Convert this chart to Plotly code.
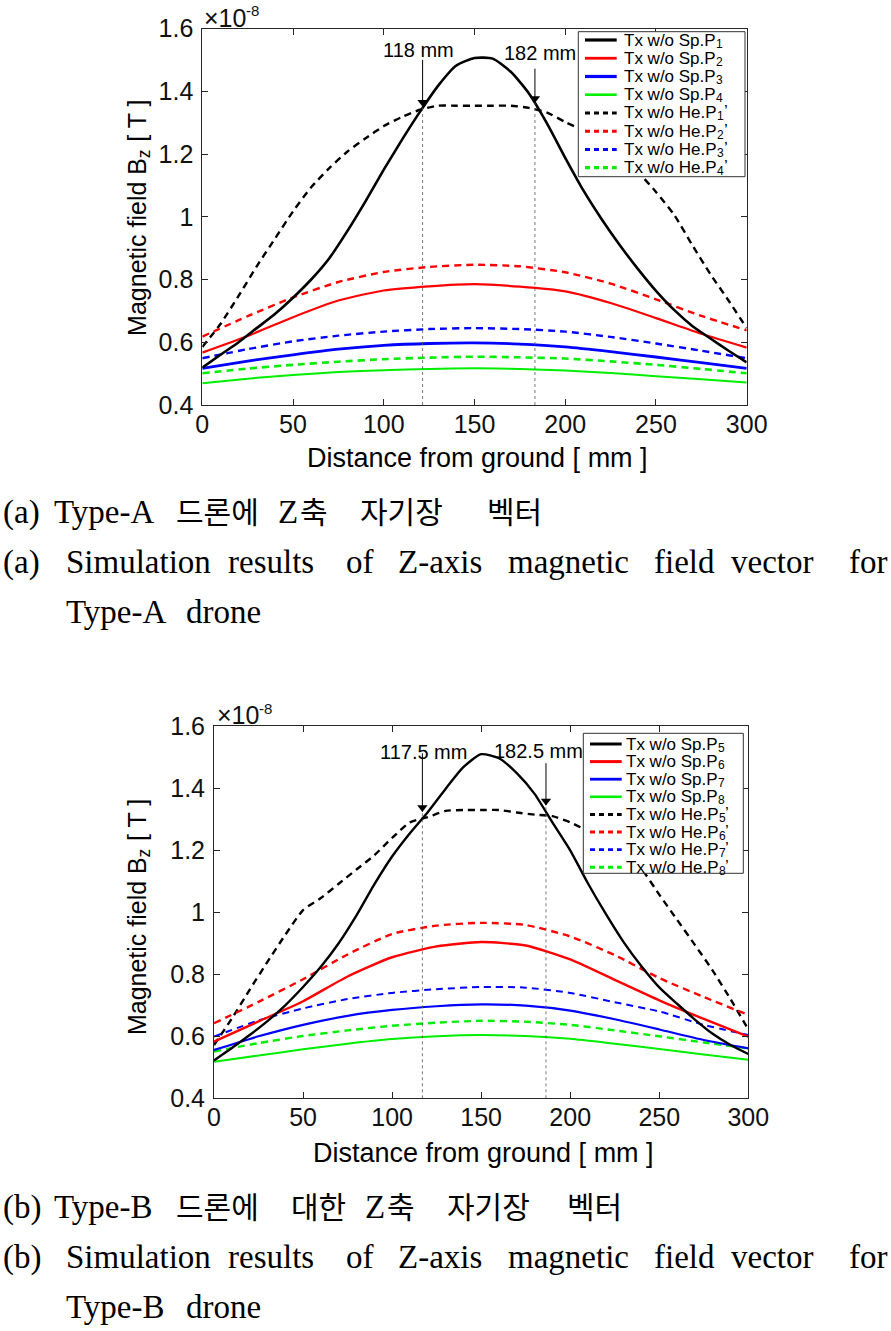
import plotly.graph_objects as go

# ---------------- data (values in 1e-8 T) ----------------
x_fine = [0, 10, 20, 30, 40, 50, 60, 70, 80, 90, 100, 110, 120, 130, 140, 150,
          160, 170, 180, 190, 200, 210, 220, 230, 240, 250, 260, 270, 280, 290, 300]
x_coarse = [0, 25, 50, 75, 100, 125, 150, 175, 200, 225, 250, 275, 300]

# Type-A drone
sp_p1 = [0.519, 0.560, 0.600, 0.645, 0.690, 0.742, 0.800, 0.868, 0.955, 1.050, 1.150,
         1.245, 1.335, 1.418, 1.482, 1.506, 1.504, 1.462, 1.393, 1.297, 1.188, 1.084,
         0.993, 0.910, 0.834, 0.764, 0.703, 0.652, 0.612, 0.573, 0.536]
he_p1 = [0.585, 0.658, 0.748, 0.842, 0.930, 1.017, 1.094, 1.155, 1.208, 1.250, 1.289,
         1.318, 1.341, 1.354, 1.354, 1.354, 1.354, 1.354, 1.347, 1.332, 1.302, 1.275,
         1.240, 1.195, 1.143, 1.079, 1.006, 0.910, 0.817, 0.733, 0.645]
sp_p2 = [0.567, 0.620, 0.680, 0.733, 0.765, 0.778, 0.785, 0.777, 0.762, 0.725, 0.677, 0.627, 0.583]
he_p2 = [0.618, 0.683, 0.743, 0.792, 0.824, 0.840, 0.847, 0.842, 0.823, 0.787, 0.737, 0.684, 0.638]
sp_p3 = [0.517, 0.540, 0.560, 0.578, 0.590, 0.596, 0.598, 0.594, 0.585, 0.570, 0.553, 0.535, 0.517]
he_p3 = [0.549, 0.578, 0.603, 0.621, 0.634, 0.642, 0.645, 0.642, 0.634, 0.617, 0.596, 0.573, 0.549]
sp_p4 = [0.469, 0.484, 0.496, 0.505, 0.511, 0.515, 0.517, 0.515, 0.510, 0.502, 0.492, 0.482, 0.472]
he_p4 = [0.501, 0.516, 0.528, 0.538, 0.546, 0.551, 0.554, 0.552, 0.548, 0.539, 0.528, 0.515, 0.501]

# Type-B drone
sp_p5 = [0.522, 0.562, 0.604, 0.649, 0.700, 0.759, 0.824, 0.900, 0.990, 1.090, 1.180,
         1.255, 1.323, 1.398, 1.468, 1.510, 1.497, 1.449, 1.382, 1.290, 1.200, 1.093,
         0.995, 0.904, 0.826, 0.758, 0.705, 0.654, 0.608, 0.572, 0.543]
he_p5 = [0.572, 0.657, 0.750, 0.840, 0.927, 1.007, 1.046, 1.092, 1.138, 1.184, 1.240,
         1.290, 1.307, 1.327, 1.330, 1.330, 1.330, 1.322, 1.315, 1.310, 1.290, 1.262,
         1.230, 1.190, 1.140, 1.057, 0.976, 0.895, 0.812, 0.720, 0.622]
sp_p6 = [0.583, 0.648, 0.713, 0.793, 0.855, 0.890, 0.904, 0.893, 0.848, 0.782, 0.716, 0.656, 0.599]
he_p6 = [0.642, 0.711, 0.784, 0.864, 0.930, 0.957, 0.966, 0.959, 0.922, 0.862, 0.788, 0.727, 0.669]
sp_p7 = [0.556, 0.600, 0.637, 0.666, 0.685, 0.697, 0.703, 0.699, 0.683, 0.655, 0.622, 0.588, 0.561]
he_p7 = [0.599, 0.651, 0.690, 0.720, 0.740, 0.752, 0.759, 0.757, 0.740, 0.710, 0.680, 0.637, 0.604]
sp_p8 = [0.518, 0.538, 0.558, 0.576, 0.591, 0.600, 0.604, 0.601, 0.592, 0.576, 0.559, 0.541, 0.524]
he_p8 = [0.551, 0.578, 0.601, 0.619, 0.634, 0.644, 0.650, 0.647, 0.637, 0.619, 0.600, 0.580, 0.561]

x_ticks = [0, 50, 100, 150, 200, 250, 300]
y_ticks = [0.4, 0.6, 0.8, 1.0, 1.2, 1.4, 1.6]
y_tick_text = ["0.4", "0.6", "0.8", "1", "1.2", "1.4", "1.6"]

# marker lines: position (mm), arrow top, arrow tip, label, label x, label y
marks_a = [(121.4, 1.500, 1.352, "118 mm", 119.4, 1.530),
           (183.3, 1.472, 1.364, "182 mm", 186.0, 1.522)]
marks_b = [(117.0, 1.513, 1.325, "117.5 mm", 117.5, 1.518),
           (186.4, 1.481, 1.346, "182.5 mm", 182.0, 1.521)]

# legend labels: base text, subscript index, prime
legend_a = [("Tx w/o Sp.P", "1", ""), ("Tx w/o Sp.P", "2", ""), ("Tx w/o Sp.P", "3", ""),
            ("Tx w/o Sp.P", "4", ""), ("Tx w/o He.P", "1", "’"), ("Tx w/o He.P", "2", "’"),
            ("Tx w/o He.P", "3", "’"), ("Tx w/o He.P", "4", "’")]
legend_b = [("Tx w/o Sp.P", "5", ""), ("Tx w/o Sp.P", "6", ""), ("Tx w/o Sp.P", "7", ""),
            ("Tx w/o Sp.P", "8", ""), ("Tx w/o He.P", "5", "’"), ("Tx w/o He.P", "6", "’"),
            ("Tx w/o He.P", "7", "’"), ("Tx w/o He.P", "8", "’")]

# ---------------- styling ----------------
W, H = 891, 1331
BLACK, RED, BLUE, GREEN = "#000000", "#ff0000", "#0000ff", "#00ee00"
colors = [BLACK, RED, BLUE, GREEN, BLACK, RED, BLUE, GREEN]
widths_a = [2.6, 2.2, 2.8, 2.0, 2.4, 2.4, 2.4, 2.6]
widths_b = [2.4, 2.4, 2.2, 2.0, 2.4, 2.4, 2.0, 2.4]
DASH = "7px,5px"
SANS = "Liberation Sans, Arial, DejaVu Sans, sans-serif"
SERIF = "Liberation Serif, Times New Roman, Noto Sans CJK KR, serif"
AXC = "#262626"

# Arial / Liberation Sans advance widths (em/1000) for measuring text pieces
AW = {"T": 611, "x": 500, " ": 278, "w": 722, "/": 278, "o": 556, "S": 667, "p": 556,
      ".": 278, "P": 667, "H": 722, "e": 556, "M": 833, "a": 556, "g": 556, "n": 556,
      "t": 278, "i": 222, "c": 500, "f": 278, "l": 222, "d": 556, "B": 667, "z": 500,
      "[": 278, "]": 278, "×": 584, "1": 556, "0": 556, "-": 333, "8": 556}


def tw(s, size):
    return sum(AW.get(ch, 556) for ch in s) * size / 1000.0


def px(x):
    return x / W


def py(y):
    return 1 - y / H


# plot rectangles in pixels: left, right, top, bottom
rect_a = (202.3, 746.7, 28.5, 405.0)
rect_b = (214.0, 748.3, 726.3, 1098.3)

fig = go.Figure()

series_a = [(x_fine, sp_p1), (x_coarse, sp_p2), (x_coarse, sp_p3), (x_coarse, sp_p4),
            (x_fine, he_p1), (x_coarse, he_p2), (x_coarse, he_p3), (x_coarse, he_p4)]
series_b = [(x_fine, sp_p5), (x_coarse, sp_p6), (x_coarse, sp_p7), (x_coarse, sp_p8),
            (x_fine, he_p5), (x_coarse, he_p6), (x_coarse, he_p7), (x_coarse, he_p8)]

draw_order = [4, 5, 6, 7, 3, 2, 1, 0]
for series, leg, widths, xa, ya in [(series_a, legend_a, widths_a, "x", "y"),
                                      (series_b, legend_b, widths_b, "x2", "y2")]:
    for i in draw_order:
        xs, ys = series[i]
        dashed = i >= 4
        fig.add_trace(go.Scatter(
            x=xs, y=ys, mode="lines", name=leg[i][0] + leg[i][1] + leg[i][2],
            showlegend=False, xaxis=xa, yaxis=ya,
            line=dict(color=colors[i], width=widths[i],
                      dash=DASH if dashed else "solid",
                      shape="spline", smoothing=0.6),
            hoverinfo="skip"))

# arrowheads of the marker lines (filled down-pointing triangles at the tips)
for marks, xa, ya in [(marks_a, "x", "y"), (marks_b, "x2", "y2")]:
    fig.add_trace(go.Scatter(
        x=[m[0] for m in marks], y=[m[2] + 0.013 for m in marks], mode="markers",
        xaxis=xa, yaxis=ya, showlegend=False, hoverinfo="skip",
        marker=dict(symbol="triangle-down", size=9, color="black", line=dict(width=0))))

axis_common = dict(showline=True, linecolor=AXC, linewidth=1, mirror="ticks",
                   ticks="inside", ticklen=6, tickcolor=AXC, tickwidth=1,
                   showgrid=False, zeroline=False,
                   tickfont=dict(family=SANS, size=25, color="#111111"))

layout = dict(width=W, height=H, margin=dict(l=0, r=0, t=0, b=0, autoexpand=False),
              paper_bgcolor="white", plot_bgcolor="white", showlegend=False)

for k, rect in [("", rect_a), ("2", rect_b)]:
    l, r, t, b = rect
    layout["xaxis" + k] = dict(domain=[px(l), px(r)], range=[0, 300], tickvals=x_ticks,
                               anchor="y" + k, ticklabelstandoff=-3, **axis_common)
    layout["yaxis" + k] = dict(domain=[py(b), py(t)], range=[0.4, 1.6], tickvals=y_ticks,
                               ticktext=y_tick_text, anchor="x" + k,
                               ticklabelstandoff=3, **axis_common)
fig.update_layout(**layout)

shapes = []
annotations = []


def txt(x, y, text, size, family=SANS, xanchor="left", angle=0, color="black"):
    annotations.append(dict(xref="paper", yref="paper", x=px(x), y=py(y), text=text,
                            showarrow=False, xanchor=xanchor, yanchor="middle",
                            textangle=angle, borderpad=0,
                            font=dict(family=family, size=size, color=color)))


# marker lines and labels
for marks, xa, ya in [(marks_a, "x", "y"), (marks_b, "x2", "y2")]:
    for (mx, top, tip, label, lx, ly) in marks:
        shapes.append(dict(type="line", xref=xa, yref=ya, x0=mx, x1=mx, y0=0.4, y1=tip,
                           line=dict(color="#555555", width=0.8, dash="dot")))
        shapes.append(dict(type="line", xref=xa, yref=ya, x0=mx, x1=mx, y0=tip, y1=top,
                           line=dict(color="black", width=1)))
        annotations.append(dict(xref=xa, yref=ya, x=lx, y=ly, text=label, showarrow=False,
                                xanchor="center", yanchor="middle",
                                font=dict(family=SANS, size=20, color="black")))

# manual legends (box, line samples, labels with subscripts)
LEG_FS, SUB_FS = 17, 12
legend_specs = [
    (legend_a, widths_a, (578.3, 745.0, 31.7, 176.7),
     [40.0 + 18.24 * i for i in range(8)], 585.0, 616.7, 623.0),
    (legend_b, widths_b, (583.3, 743.3, 733.3, 873.3),
     [744.0 + 17.6 * i for i in range(8)], 590.0, 621.7, 624.7),
]
for leg, widths, box, rows, lx0, lx1, tx in legend_specs:
    bl, br, bt, bb = box
    shapes.append(dict(type="rect", xref="paper", yref="paper", x0=px(bl), x1=px(br),
                       y0=py(bb), y1=py(bt), fillcolor="white",
                       line=dict(color="#333333", width=1), layer="above"))
    for i, yrow in enumerate(rows):
        base, sub, prime = leg[i]
        shapes.append(dict(type="line", xref="paper", yref="paper", x0=px(lx0), x1=px(lx1),
                           y0=py(yrow), y1=py(yrow), layer="above",
                           line=dict(color=colors[i], width=min(widths[i] + 0.6, 3.2),
                                     dash=("5px,4px" if i >= 4 else "solid"))))
        txt(tx, yrow, base, LEG_FS)
        xs = tx + tw(base, LEG_FS) + 0.5
        txt(xs, yrow + 3.5, sub, SUB_FS)
        if prime:
            txt(xs + tw(sub, SUB_FS), yrow - 1, prime, LEG_FS)

# axis titles and exponent labels
YT_FS, YSUB_FS = 25, 17.5
for xt_c, xt_y, yt_c, yt_x, exp_x, exp_y in [(477, 458, 217.5, 137, 203, 18),
                                              (483, 1153, 916.7, 137, 216, 715)]:
    txt(xt_c, xt_y, "Distance from ground [ mm ]", 27, xanchor="center")
    # rotated y title assembled from pieces: "Magnetic field B" + subscript "z" + "[ T ]"
    p1, p2, p3 = "Magnetic field B", "z", "[ T ]"
    total = tw(p1, YT_FS) + tw(p2, YSUB_FS) + tw(" ", YT_FS) + tw(p3, YT_FS)
    start = yt_c + total / 2.0  # text runs upward from here
    c1 = start - tw(p1, YT_FS) / 2.0
    c2 = start - tw(p1, YT_FS) - tw(p2, YSUB_FS) / 2.0
    c3 = start - tw(p1, YT_FS) - tw(p2, YSUB_FS) - tw(" ", YT_FS) - tw(p3, YT_FS) / 2.0
    base_x = yt_x + 0.3465 * YT_FS
    txt(yt_x, c1, p1, YT_FS, xanchor="center", angle=-90)
    txt(base_x + 4 - 0.3465 * YSUB_FS, c2, p2, YSUB_FS, xanchor="center", angle=-90)
    txt(yt_x, c3, p3, YT_FS, xanchor="center", angle=-90)
    # x10^-8 exponent
    txt(exp_x, exp_y, "×10", 25, color="#111111")
    txt(exp_x + tw("×10", 25), exp_y - 7, "-8", 15, color="#111111")

# captions (word-positioned to mimic the justified layout)
LAT, KOR = 33, 30
cap_words = [
    # (text, x, baseline y, size)
    ("(a)", 2, 523, LAT), ("Type-A", 53, 523, LAT), ("드론에", 175, 523, KOR),
    ("Z", 277, 523, LAT), ("축", 299, 523, KOR), ("자기장", 359, 523, KOR), ("벡터", 486, 523, KOR),
    ("(a)", 2, 573, LAT), ("Simulation", 65, 573, LAT), ("results", 227, 573, LAT),
    ("of", 345, 573, LAT), ("Z-axis", 397, 573, LAT), ("magnetic", 507, 573, LAT),
    ("field", 653, 573, LAT), ("vector", 730, 573, LAT), ("for", 848, 573, LAT),
    ("Type-A", 65, 623, LAT), ("drone", 185, 623, LAT),
    ("(b)", 2, 1218, LAT), ("Type-B", 53, 1218, LAT), ("드론에", 175, 1218, KOR),
    ("대한", 290, 1218, KOR), ("Z", 364, 1218, LAT), ("축", 386, 1218, KOR),
    ("자기장", 446, 1218, KOR), ("벡터", 566, 1218, KOR),
    ("(b)", 2, 1268, LAT), ("Simulation", 65, 1268, LAT), ("results", 227, 1268, LAT),
    ("of", 345, 1268, LAT), ("Z-axis", 397, 1268, LAT), ("magnetic", 507, 1268, LAT),
    ("field", 653, 1268, LAT), ("vector", 730, 1268, LAT), ("for", 848, 1268, LAT),
    ("Type-B", 65, 1318, LAT), ("drone", 185, 1318, LAT),
]
for text, x, base, size in cap_words:
    txt(x, base - 0.33 * LAT, text, size, family=SERIF)

fig.update_layout(shapes=shapes, annotations=annotations)
fig.write_html(
    "out.html",
    config={"displayModeBar": False},
    post_script=("document.documentElement.style.margin='0px';"
                 "document.body.style.margin='0px';"
                 "document.documentElement.style.overflow='hidden';"
                 "document.body.style.overflow='hidden';"))
